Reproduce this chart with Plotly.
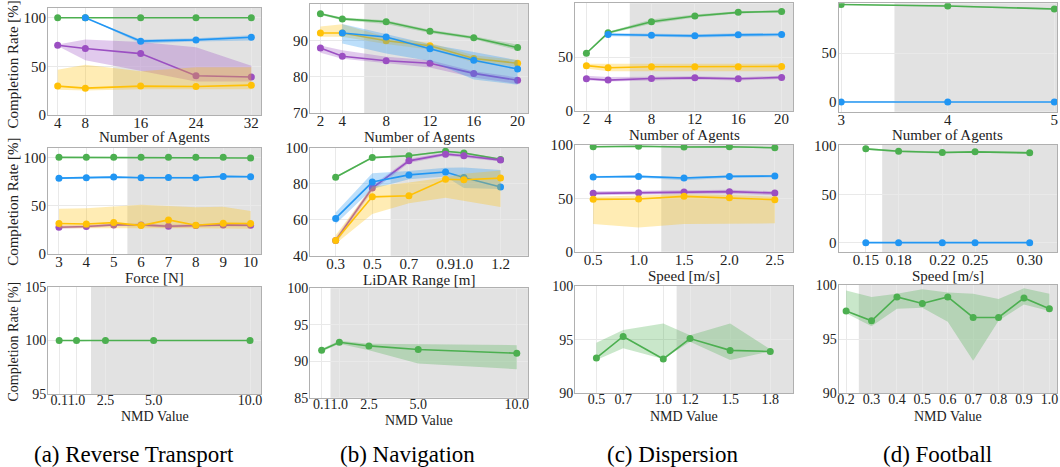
import plotly.graph_objects as go

W, H = 1060, 467
GREEN = '#4CAF50'
BLUE = '#2196F3'
PURPLE = '#9B4FC2'
YELLOW = '#FFC107'

# ---------------- Row 1 : Number of Agents ----------------
# (a) Reverse Transport
a1_x = [4, 8, 16, 24, 32]
a1_green = [100, 100, 100, 100, 100]
a1_green_lo = [100, 100, 100, 100, 100]
a1_green_hi = [100, 100, 100, 100, 100]
a1_blue_x = [8, 16, 24, 32]
a1_blue = [100, 75.9, 77.2, 80.0]
a1_blue_lo = [100, 73.5, 75.5, 76.5]
a1_blue_hi = [100, 77.5, 79.0, 82.0]
a1_purple = [71.7, 68.3, 63.1, 40.3, 39.0]
a1_purple_lo = [71.0, 56.2, 45.5, 34.5, 34.5]
a1_purple_hi = [72.5, 77.6, 75.0, 69.7, 50.7]
a1_yellow = [29.7, 27.6, 29.7, 29.3, 30.7]
a1_yellow_lo = [25.9, 25.2, 26.6, 26.6, 26.6]
a1_yellow_hi = [46.6, 51.7, 45.0, 49.0, 49.0]

# (b) Navigation
b1_x = [2, 4, 8, 12, 16, 20]
b1_green = [97.3, 95.9, 95.1, 92.5, 90.7, 88.0]
b1_green_lo = [97.0, 95.5, 94.5, 92.0, 90.3, 87.3]
b1_green_hi = [97.6, 96.3, 95.5, 92.9, 91.1, 88.8]
b1_yellow = [92.0, 92.0, 89.9, 88.5, 85.0, 83.7]
b1_yellow_lo = [91.0, 91.0, 89.0, 87.5, 84.0, 82.7]
b1_yellow_hi = [93.8, 94.4, 90.9, 89.3, 85.9, 84.6]
b1_blue_x = [4, 8, 12, 16, 20]
b1_blue = [92.0, 90.9, 87.7, 84.5, 82.1]
b1_blue_lo = [89.1, 86.4, 84.3, 79.2, 77.8]
b1_blue_hi = [94.5, 91.7, 88.9, 86.8, 84.5]
b1_purple = [87.9, 85.6, 84.4, 83.7, 80.9, 79.0]
b1_purple_lo = [86.6, 84.9, 83.8, 82.5, 79.8, 78.0]
b1_purple_hi = [88.6, 87.3, 85.5, 84.5, 81.5, 79.8]

# (c) Dispersion
c1_x = [2, 4, 8, 12, 16, 20]
c1_green = [53.6, 72.6, 82.9, 88.2, 91.6, 92.5]
c1_green_lo = [53.0, 71.5, 80.9, 86.7, 90.6, 91.5]
c1_green_hi = [54.2, 73.5, 84.9, 89.7, 92.6, 93.5]
c1_blue_x = [4, 8, 12, 16, 20]
c1_blue = [71.0, 70.4, 69.8, 70.7, 71.0]
c1_blue_lo = [69.5, 68.9, 68.3, 69.2, 69.5]
c1_blue_hi = [72.5, 71.9, 71.3, 72.2, 72.5]
c1_yellow = [42.1, 40.2, 41.1, 41.1, 41.1, 41.4]
c1_yellow_lo = [39.5, 36.8, 36.8, 36.8, 36.8, 36.8]
c1_yellow_hi = [43.9, 43.9, 43.9, 43.9, 43.9, 43.9]
c1_purple = [29.9, 28.7, 30.2, 30.8, 29.9, 31.2]
c1_purple_lo = [28.5, 27.5, 28.7, 29.3, 28.4, 29.7]
c1_purple_hi = [32.7, 31.5, 31.7, 32.3, 31.4, 32.7]

# (d) Football
d1_x = [3, 4, 5]
d1_green = [99.7, 98.3, 95.2]
d1_green_lo = [99.2, 97.5, 94.2]
d1_green_hi = [100.0, 99.1, 96.2]
d1_blue = [0, 0, 0]
d1_blue_lo = [0, 0, 0]
d1_blue_hi = [0, 0, 0]

# ---------------- Row 2 : Force / LiDAR / Speed ----------------
a2_x = [3, 4, 5, 6, 7, 8, 9, 10]
a2_green = [100, 100, 100, 100, 100, 100, 100, 99.3]
a2_green_lo = [100, 100, 100, 100, 100, 100, 100, 99.0]
a2_green_hi = [100, 100, 100, 100, 100, 100, 100, 99.6]
a2_blue = [78.5, 78.9, 79.6, 78.9, 79.2, 78.9, 80.3, 79.9]
a2_blue_lo = [77.5, 77.9, 78.6, 77.9, 78.2, 77.9, 79.3, 78.9]
a2_blue_hi = [79.5, 79.9, 80.6, 79.9, 80.2, 79.9, 81.3, 80.9]
a2_yellow = [31.5, 31.1, 32.5, 29.4, 35.3, 29.8, 31.8, 31.5]
a2_yellow_lo = [26.6, 26.6, 26.6, 26.6, 26.6, 26.6, 26.6, 26.0]
a2_yellow_hi = [46.7, 47.4, 49.1, 50.9, 49.8, 48.4, 48.8, 44.6]
a2_purple = [27.7, 28.4, 30.1, 30.1, 28.7, 29.4, 30.1, 29.8]
a2_purple_lo = [26.2, 26.9, 28.6, 28.6, 27.2, 27.9, 28.6, 28.3]
a2_purple_hi = [29.2, 29.9, 31.6, 31.6, 30.2, 30.9, 31.6, 31.3]

b2_x = [0.3, 0.5, 0.7, 0.9, 1.0, 1.2]
b2_green = [83.6, 94.5, 95.5, 98.0, 97.1, 93.5]
b2_green_lo = [83.1, 94.0, 95.0, 97.5, 96.6, 93.0]
b2_green_hi = [84.1, 95.0, 96.0, 98.5, 97.6, 94.0]
b2_purple = [48.5, 77.6, 92.7, 96.4, 95.5, 93.1]
b2_purple_lo = [46.5, 76.0, 91.5, 95.5, 94.6, 92.3]
b2_purple_hi = [50.0, 79.0, 93.8, 97.3, 96.4, 94.0]
b2_yellow = [48.5, 72.7, 73.3, 82.5, 82.2, 83.1]
b2_yellow_lo = [46.7, 63.1, 69.1, 72.2, 70.4, 67.1]
b2_yellow_hi = [51.3, 78.5, 80.7, 83.5, 85.5, 87.3]
b2_blue = [60.7, 80.9, 84.9, 86.5, 83.5, 78.2]
b2_blue_lo = [57.6, 77.1, 82.5, 84.0, 77.6, 77.1]
b2_blue_hi = [64.0, 85.8, 87.0, 88.9, 89.0, 87.6]

c2_x = [0.5, 1.0, 1.5, 2.0, 2.5]
c2_green = [98.4, 98.8, 98.1, 98.4, 97.5]
c2_green_lo = [97.7, 98.1, 97.4, 97.7, 96.8]
c2_green_hi = [99.1, 99.5, 98.8, 99.1, 98.2]
c2_purple = [54.7, 55.3, 55.9, 56.3, 55.0]
c2_purple_lo = [53.0, 53.5, 54.0, 54.5, 53.0]
c2_purple_hi = [56.7, 57.0, 57.5, 58.0, 56.7]
c2_yellow = [49.1, 49.4, 51.9, 50.6, 48.8]
c2_yellow_lo = [25.9, 22.8, 25.9, 25.9, 26.6]
c2_yellow_hi = [51.6, 52.5, 53.8, 53.1, 51.6]
c2_blue = [70.0, 70.6, 69.1, 70.6, 70.9]
c2_blue_lo = [69.0, 69.3, 67.0, 69.3, 69.6]
c2_blue_hi = [71.0, 71.5, 70.0, 71.5, 71.9]

d2_x = [0.15, 0.18, 0.22, 0.25, 0.30]
d2_green = [97.0, 94.6, 93.2, 93.9, 92.9]
d2_green_lo = [96.0, 93.6, 92.2, 92.9, 91.9]
d2_green_hi = [98.0, 95.6, 94.2, 94.9, 93.9]
d2_blue = [0, 0, 0, 0, 0]
d2_blue_lo = [0, 0, 0, 0, 0]
d2_blue_hi = [0, 0, 0, 0, 0]

# ---------------- Row 3 : NMD Value ----------------
a3_x = [0.1, 1.0, 2.5, 5.0, 10.0]
a3_green = [100, 100, 100, 100, 100]
a3_green_lo = [100, 99.9, 100, 100, 100]
a3_green_hi = [100, 100, 100, 100, 100]

b3_x = [0.1, 1.0, 2.5, 5.0, 10.0]
b3_green = [91.5, 92.6, 92.1, 91.6, 91.1]
b3_green_lo = [91.3, 92.4, 91.5, 89.7, 88.9]
b3_green_hi = [91.7, 92.8, 92.4, 92.3, 92.2]

c3_x = [0.5, 0.7, 1.0, 1.2, 1.5, 1.8]
c3_green = [93.3, 95.3, 93.2, 95.1, 94.0, 93.9]
c3_green_lo = [93.1, 94.2, 93.2, 94.8, 93.1, 93.9]
c3_green_hi = [94.7, 95.9, 96.5, 95.4, 96.5, 94.1]

d3_x = [0.2, 0.3, 0.4, 0.5, 0.6, 0.7, 0.8, 0.9, 1.0]
d3_green = [97.6, 96.7, 98.9, 98.3, 98.9, 97.0, 97.0, 98.8, 97.8]
d3_green_lo = [97.4, 96.2, 97.8, 97.9, 96.6, 93.0, 96.7, 98.2, 97.6]
d3_green_hi = [99.5, 98.9, 99.2, 99.6, 99.3, 99.2, 98.7, 99.7, 99.2]

captions = ['(a) Reverse Transport', '(b) Navigation', '(c) Dispersion', '(d) Football']
caption_x = [134, 407, 672, 937]

# ---------------- Panel table ----------------
COLS = [(48, 261), (310, 528), (575, 793), (838.5, 1057)]
panels = [
    dict(col=0, y=(8, 115), xr=[2.6, 33.4], yr=[0, 110], xt=[4, 8, 16, 24, 32], xl=None,
         yt=[0, 50, 100], shade=12, title='Number of Agents', ty=137, fs=15, ytitle=True,
         series=[(a1_x, a1_green, a1_green_lo, a1_green_hi, GREEN),
                 (a1_x, a1_purple, a1_purple_lo, a1_purple_hi, PURPLE),
                 (a1_x, a1_yellow, a1_yellow_lo, a1_yellow_hi, YELLOW),
                 (a1_blue_x, a1_blue, a1_blue_lo, a1_blue_hi, BLUE)]),
    dict(col=1, y=(4, 113), xr=[1.05, 20.95], yr=[70, 100], xt=[2, 4, 8, 12, 16, 20], xl=None,
         yt=[70, 80, 90, 100], shade=6, title='Number of Agents', ty=137, fs=15, ytitle=False,
         series=[(b1_x, b1_green, b1_green_lo, b1_green_hi, GREEN),
                 (b1_x, b1_purple, b1_purple_lo, b1_purple_hi, PURPLE),
                 (b1_x, b1_yellow, b1_yellow_lo, b1_yellow_hi, YELLOW),
                 (b1_blue_x, b1_blue, b1_blue_lo, b1_blue_hi, BLUE)]),
    dict(col=2, y=(3.3, 111), xr=[0.95, 21.05], yr=[0, 100], xt=[2, 4, 8, 12, 16, 20], xl=None,
         yt=[0, 50, 100], shade=6, title='Number of Agents', ty=135, fs=15, ytitle=False,
         series=[(c1_x, c1_green, c1_green_lo, c1_green_hi, GREEN),
                 (c1_x, c1_purple, c1_purple_lo, c1_purple_hi, PURPLE),
                 (c1_x, c1_yellow, c1_yellow_lo, c1_yellow_hi, YELLOW),
                 (c1_blue_x, c1_blue, c1_blue_lo, c1_blue_hi, BLUE)]),
    dict(col=3, y=(3.3, 111.7), xr=[2.975, 5.025], yr=[-10, 101], xt=[3, 4, 5], xl=None,
         yt=[0, 50, 100], shade=3.5, title='Number of Agents', ty=135, fs=15, ytitle=False,
         series=[(d1_x, d1_green, d1_green_lo, d1_green_hi, GREEN),
                 (d1_x, d1_blue, d1_blue_lo, d1_blue_hi, BLUE)]),
    dict(col=0, y=(147.7, 254), xr=[2.6, 10.38], yr=[0, 110], xt=[3, 4, 5, 6, 7, 8, 9, 10], xl=None,
         yt=[0, 50, 100], shade=5.5, title='Force [N]', ty=278, fs=15, ytitle=True,
         series=[(a2_x, a2_green, a2_green_lo, a2_green_hi, GREEN),
                 (a2_x, a2_purple, a2_purple_lo, a2_purple_hi, PURPLE),
                 (a2_x, a2_yellow, a2_yellow_lo, a2_yellow_hi, YELLOW),
                 (a2_x, a2_blue, a2_blue_lo, a2_blue_hi, BLUE)]),
    dict(col=1, y=(147.7, 255.7), xr=[0.16, 1.35], yr=[40, 100], xt=b2_x,
         xl=['0.3', '0.5', '0.7', '0.9', '1.0', '1.2'],
         yt=[40, 60, 80, 100], shade=0.6, title='LiDAR Range [m]', ty=280, fs=15, ytitle=False,
         series=[(b2_x, b2_green, b2_green_lo, b2_green_hi, GREEN),
                 (b2_x, b2_purple, b2_purple_lo, b2_purple_hi, PURPLE),
                 (b2_x, b2_blue, b2_blue_lo, b2_blue_hi, BLUE),
                 (b2_x, b2_yellow, b2_yellow_lo, b2_yellow_hi, YELLOW)]),
    dict(col=2, y=(144.5, 251.7), xr=[0.3, 2.7], yr=[0, 100.5], xt=c2_x,
         xl=['0.5', '1.0', '1.5', '2.0', '2.5'],
         yt=[0, 50, 100], shade=1.25, title='Speed [m/s]', ty=276, fs=15, ytitle=False,
         series=[(c2_x, c2_green, c2_green_lo, c2_green_hi, GREEN),
                 (c2_x, c2_purple, c2_purple_lo, c2_purple_hi, PURPLE),
                 (c2_x, c2_yellow, c2_yellow_lo, c2_yellow_hi, YELLOW),
                 (c2_x, c2_blue, c2_blue_lo, c2_blue_hi, BLUE)]),
    dict(col=3, y=(145, 252.3), xr=[0.125, 0.325], yr=[-10, 101], xt=d2_x,
         xl=['0.15', '0.18', '0.22', '0.25', '0.30'],
         yt=[0, 50, 100], shade=0.165, title='Speed [m/s]', ty=276, fs=15, ytitle=False,
         series=[(d2_x, d2_green, d2_green_lo, d2_green_hi, GREEN),
                 (d2_x, d2_blue, d2_blue_lo, d2_blue_hi, BLUE)]),
    dict(col=0, y=(286.7, 394.3), xr=[-0.48, 10.57], yr=[95, 105], xt=a3_x,
         xl=['0.1', '1.0', '2.5', '5.0', '10.0'],
         yt=[95, 100, 105], shade=1.75, title='NMD Value', ty=416, fs=14, ytitle=True,
         series=[(a3_x, a3_green, a3_green_lo, a3_green_hi, GREEN)]),
    dict(col=1, y=(288.3, 397.7), xr=[-0.49, 10.57], yr=[85, 100], xt=b3_x,
         xl=['0.1', '1.0', '2.5', '5.0', '10.0'],
         yt=[85, 90, 95, 100], shade=0.55, title='NMD Value', ty=420, fs=14, ytitle=False,
         series=[(b3_x, b3_green, b3_green_lo, b3_green_hi, GREEN)]),
    dict(col=2, y=(286, 393.3), xr=[0.34, 1.97], yr=[90, 100], xt=c3_x,
         xl=['0.5', '0.7', '1.0', '1.2', '1.5', '1.8'],
         yt=[90, 95, 100], shade=1.1, title='NMD Value', ty=416, fs=14, ytitle=False,
         series=[(c3_x, c3_green, c3_green_lo, c3_green_hi, GREEN)]),
    dict(col=3, y=(285, 393.3), xr=[0.17, 1.03], yr=[90, 100], xt=d3_x,
         xl=['0.2', '0.3', '0.4', '0.5', '0.6', '0.7', '0.8', '0.9', '1.0'],
         yt=[90, 95, 100], shade=0.25, title='NMD Value', ty=416, fs=14, ytitle=False,
         series=[(d3_x, d3_green, d3_green_lo, d3_green_hi, GREEN)]),
]


def rgba(h, a):
    h = h.lstrip('#')
    return 'rgba(%d,%d,%d,%.2f)' % (int(h[0:2], 16), int(h[2:4], 16), int(h[4:6], 16), a)


FONT = 'Liberation Serif, Times New Roman, DejaVu Serif, serif'
TXT = '#222222'
fig = go.Figure()
layout = dict(template='none', width=W, height=H, margin=dict(l=0, r=0, t=0, b=0, pad=0),
              showlegend=False, autosize=False,
              paper_bgcolor='white', plot_bgcolor='white', shapes=[], annotations=[],
              font=dict(family=FONT, color=TXT))

for i, p in enumerate(panels, start=1):
    xs = '' if i == 1 else str(i)
    xref, yref = 'x' + xs, 'y' + xs
    x0, x1 = COLS[p['col']]
    y0, y1 = p['y']
    xd = [x0 / W, x1 / W]
    yd = [1 - y1 / H, 1 - y0 / H]
    common = dict(showgrid=True, gridcolor='#e9e9e9', gridwidth=1, showline=True, mirror=True,
                  linecolor='#b0b0b0', linewidth=1, zeroline=False, ticks='', automargin=False,
                  tickfont=dict(family=FONT, size=p['fs'], color=TXT))
    xa = dict(domain=xd, anchor=yref, range=p['xr'], tickmode='array', tickvals=p['xt'],
              tickangle=0, ticklabelstandoff=(-6 if i <= 8 else -7), **common)
    if p['xl'] is not None:
        xa['ticktext'] = p['xl']
    ya = dict(domain=yd, anchor=xref, range=p['yr'], tickmode='array', tickvals=p['yt'],
              ticklabelstandoff=-2, **common)
    layout['xaxis' + xs] = xa
    layout['yaxis' + xs] = ya

    layout['shapes'].append(dict(type='rect', xref=xref, yref=yref + ' domain', x0=p['shade'],
                                 x1=p['xr'][1], y0=0, y1=1, fillcolor='#e2e2e2',
                                 line=dict(width=0), layer='below'))

    for (sx, sy, lo, hi, col) in p['series']:
        fig.add_trace(go.Scatter(x=list(sx) + list(sx)[::-1], y=list(hi) + list(lo)[::-1],
                                 fill='toself', fillcolor=rgba(col, 0.3), line=dict(width=0),
                                 mode='lines', hoverinfo='skip', xaxis=xref, yaxis=yref))
        fig.add_trace(go.Scatter(x=sx, y=sy, mode='lines+markers',
                                 line=dict(color=col, width=1.6),
                                 marker=dict(color=col, size=7, line=dict(width=0)),
                                 xaxis=xref, yaxis=yref))

    # x axis title
    layout['annotations'].append(dict(text=p['title'], x=(x0 + x1) / 2 / W, y=1 - p['ty'] / H,
                                      xref='paper', yref='paper', showarrow=False,
                                      xanchor='center', yanchor='middle',
                                      font=dict(family=FONT, size=p['fs'], color=TXT)))
    if p['ytitle']:
        yc = (y0 + y1) / 2 + (3 if i == 1 else 1)
        layout['annotations'].append(dict(text='Completion Rate [%]', x=13 / W,
                                          y=1 - yc / H, xref='paper', yref='paper',
                                          showarrow=False, textangle=-90, xanchor='center',
                                          yanchor='middle',
                                          font=dict(family=FONT, size=p['fs'], color=TXT)))

for cap, cx in zip(captions, caption_x):
    layout['annotations'].append(dict(text=cap, x=cx / W, y=1 - 454 / H, xref='paper',
                                      yref='paper', showarrow=False, xanchor='center',
                                      yanchor='middle',
                                      font=dict(family=FONT, size=23, color='black')))

fig.update_layout(**layout)
fig.write_html('out.html', config={'displayModeBar': False},
               post_script="document.body.style.margin='0px';document.body.style.overflow='hidden';")
